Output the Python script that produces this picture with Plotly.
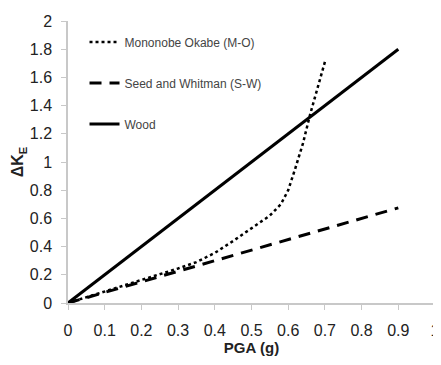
import plotly.graph_objects as go

# Data
pga_wood = [0.0, 0.9]
dk_wood = [0.0, 1.8]

pga_sw = [0.0, 0.9]
dk_sw = [0.0, 0.675]

pga_mo = [0, 0.05, 0.1, 0.15, 0.2, 0.25, 0.3, 0.35, 0.4, 0.45, 0.5, 0.55, 0.58, 0.6, 0.62, 0.64, 0.66, 0.68, 0.7]
dk_mo = [0, 0.04, 0.08, 0.12, 0.165, 0.205, 0.245, 0.29, 0.355, 0.44, 0.53, 0.62, 0.70, 0.80, 0.96, 1.13, 1.34, 1.52, 1.71]

x_ticks = [0, 0.1, 0.2, 0.3, 0.4, 0.5, 0.6, 0.7, 0.8, 0.9, 1]
y_ticks = [0, 0.2, 0.4, 0.6, 0.8, 1, 1.2, 1.4, 1.6, 1.8, 2]

FONT = "Liberation Sans, Arial, sans-serif"

fig = go.Figure()
fig.add_trace(go.Scatter(x=pga_mo, y=dk_mo, mode="lines", name="Mononobe Okabe (M-O)",
                         legendgroup="a", line=dict(color="black", width=2.5, dash="dot")))
fig.add_trace(go.Scatter(x=pga_sw, y=dk_sw, mode="lines", name="Seed and Whitman (S-W)",
                         legendgroup="b", line=dict(color="black", width=3, dash="12px,8px")))
fig.add_trace(go.Scatter(x=pga_wood, y=dk_wood, mode="lines", name="Wood",
                         legendgroup="c", line=dict(color="black", width=3)))

fig.update_layout(
    width=433, height=357,
    margin=dict(l=60, r=6, t=13, b=62, autoexpand=False),
    paper_bgcolor="white", plot_bgcolor="white",
    font=dict(family=FONT, color="#222"),
    showlegend=True,
    legend=dict(x=0.045, y=0.977, xanchor="left", yanchor="top",
                bgcolor="rgba(0,0,0,0)", font=dict(size=12, color="#444", family=FONT),
                traceorder="grouped", tracegroupgap=22),
    xaxis=dict(range=[0, 1], tickvals=x_ticks, showgrid=False, zeroline=False,
               automargin=False,
               showline=True, linecolor="#c8c8c8", linewidth=1.5,
               ticks="outside", ticklen=5, tickcolor="#c8c8c8",
               ticklabelstandoff=7,
               tickfont=dict(size=16, color="#222"),
               title=dict(text="<b>PGA (g)</b>", font=dict(size=15, color="#222"), standoff=5)),
    yaxis=dict(range=[0, 2], tickvals=y_ticks, showgrid=False, zeroline=False,
               automargin=False,
               showline=True, linecolor="#c8c8c8", linewidth=1.5,
               ticks="outside", ticklen=5, tickcolor="#c8c8c8",
               ticklabelstandoff=6,
               tickfont=dict(size=16, color="#222"),
               title=dict(text="<b>ΔK<sub>E</sub></b>", font=dict(size=16, color="#222"), standoff=2)),
)

fig.write_html("out.html")
